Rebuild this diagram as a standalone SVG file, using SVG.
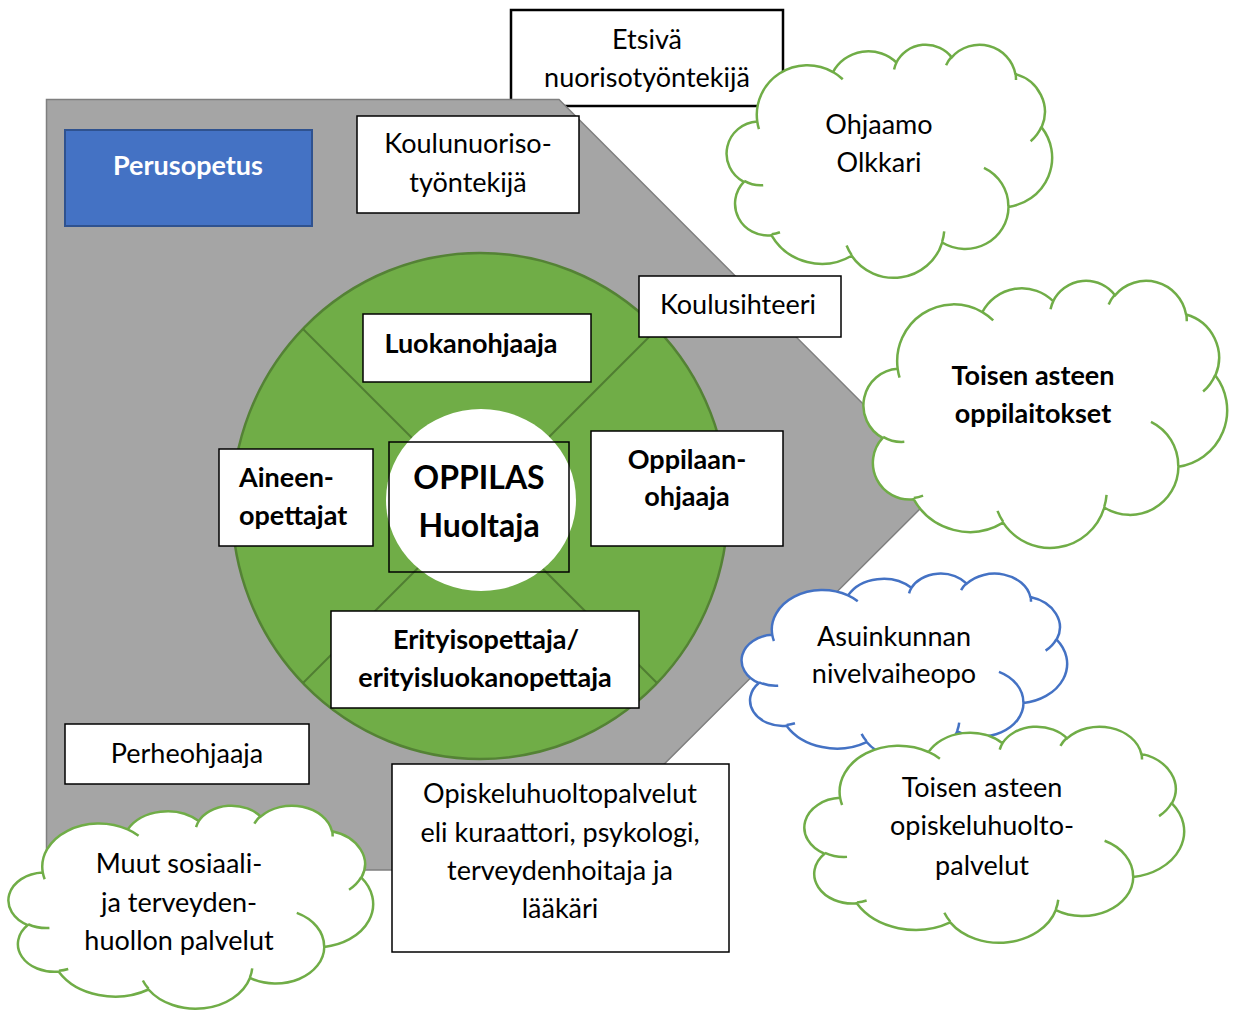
<svg xmlns="http://www.w3.org/2000/svg" xmlns:xlink="http://www.w3.org/1999/xlink" width="1235" height="1010" viewBox="0 0 1235 1010">
<style>
.box{fill:#fff;stroke:#000;stroke-width:1.5}
.t{font-family:Lato,"Liberation Sans",sans-serif;font-size:27px;fill:#000;text-anchor:middle}
.b{font-weight:bold}
.cg{fill:#fff;stroke:#70AD47;stroke-width:2.5}
.cb{fill:#fff;stroke:#4472C4;stroke-width:2.5}
</style>
<defs>
<path id="cloud" vector-effect="non-scaling-stroke" d="M9.03,33.26 A15.63,21.27 0 0 1 32.42,12.04 A12.34,16.82 0 0 1 51.98,7.94 A10.10,13.76 0 0 1 69.06,5.74 A11.24,15.27 0 0 1 88.70,12.91 A12.34,16.84 0 0 1 96.80,35.78 A15.68,21.34 0 0 1 86.58,69.91 A13.39,18.21 0 0 1 66.10,85.21 A15.63,21.33 0 0 1 38.15,90.89 A17.87,24.41 0 0 1 13.43,82.10 A10.09,13.70 0 0 1 4.89,59.14 A10.06,13.76 0 0 1 9.03,33.26 Z M10.86,60.59 A10.06,13.76 0 0 1 5.00,58.75 M16.04,80.78 A10.09,13.70 0 0 1 13.47,81.67 M38.14,90.49 A15.63,21.33 0 0 1 36.60,86.46 M66.73,80.44 A15.63,21.33 0 0 1 66.11,84.86 M79.00,53.13 A13.39,18.21 0 0 1 86.53,69.65 M96.75,35.54 A12.34,16.84 0 0 1 93.40,41.74 M88.71,12.56 A11.24,15.27 0 0 1 88.89,15.49 M67.31,9.15 A11.24,15.27 0 0 1 69.03,5.42 M51.25,10.93 A10.10,13.76 0 0 1 52.08,7.71 M32.41,12.02 A15.63,21.27 0 0 1 35.42,15.14 M9.55,36.55 A15.63,21.27 0 0 1 9.03,33.26"/>
</defs>
<rect width="1235" height="1010" fill="#fff"/>

<g id="etsiva">
<rect x="511" y="10" width="272" height="96" fill="#fff" stroke="#000" stroke-width="2.5"/>
<text class="t" x="647" y="49">Etsivä</text>
<text class="t" x="647" y="87">nuorisotyöntekijä</text>
</g>

<g id="perusopetus-area">
<polygon points="46.5,99.5 559,99.5 944,485 558,870 46.5,870" fill="#A5A5A5" stroke="#7F7F7F" stroke-width="1.5"/>
</g>

<g id="perusopetus">
<rect x="65" y="130" width="247" height="96" fill="#4472C4" stroke="#2F528F" stroke-width="2"/>
<text class="t b" x="188" y="175" style="fill:#fff">Perusopetus</text>
</g>

<g id="koulunuoriso">
<rect class="box" x="357" y="116" width="222" height="97"/>
<text class="t" x="468" y="153">Koulunuoriso-</text>
<text class="t" x="468" y="192">työntekijä</text>
</g>

<g id="ring">
<ellipse cx="480" cy="506" rx="248" ry="253" fill="#70AD47" stroke="#548235" stroke-width="2.5"/>
</g>
<g id="dividers" stroke="#507E32" stroke-width="2">
<line x1="303" y1="329" x2="480" y2="506"/>
<line x1="657" y1="329" x2="480" y2="506"/>
<line x1="303" y1="683" x2="480" y2="506"/>
<line x1="657" y1="683" x2="480" y2="506"/>
</g>

<g id="oppilas">
<ellipse cx="481" cy="500" rx="95" ry="91" fill="#fff"/>
<rect x="389" y="442" width="180" height="130" fill="none" stroke="#000" stroke-width="1.5"/>
<text class="t b" x="479" y="489" style="font-size:32px">OPPILAS</text>
<text class="t b" x="479" y="537" style="font-size:32px">Huoltaja</text>
</g>

<g id="luokanohjaaja">
<rect class="box" x="363" y="314" width="228" height="68"/>
<text class="t b" x="471" y="353">Luokanohjaaja</text>
</g>

<g id="koulusihteeri">
<rect class="box" x="639" y="276" width="202" height="61"/>
<text class="t" x="738" y="314">Koulusihteeri</text>
</g>

<g id="oppilaanohjaaja">
<rect class="box" x="591" y="431" width="192" height="115"/>
<text class="t b" x="687" y="469">Oppilaan-</text>
<text class="t b" x="687" y="506">ohjaaja</text>
</g>

<g id="aineenopettajat">
<rect class="box" x="219" y="449" width="154" height="97"/>
<text class="t b" x="239" y="487" style="text-anchor:start">Aineen-</text>
<text class="t b" x="239" y="525" style="text-anchor:start">opettajat</text>
</g>

<g id="erityisopettaja">
<rect class="box" x="331" y="611" width="308" height="97"/>
<text class="t b" x="486" y="649">Erityisopettaja/</text>
<text class="t b" x="485" y="687">erityisluokanopettaja</text>
</g>

<g id="perheohjaaja">
<rect class="box" x="65" y="724" width="244" height="60"/>
<text class="t" x="187" y="763">Perheohjaaja</text>
</g>

<g id="opiskeluhuolto">
<rect class="box" x="392" y="764" width="337" height="188"/>
<text class="t" x="560" y="803">Opiskeluhuoltopalvelut</text>
<text class="t" x="560" y="842">eli kuraattori, psykologi,</text>
<text class="t" x="560" y="880">terveydenhoitaja ja</text>
<text class="t" x="560" y="918">lääkäri</text>
</g>

<g id="ohjaamo">
<use xlink:href="#cloud" class="cg" transform="translate(728,44) scale(3.24,2.33)"/>
<text class="t" x="879" y="134">Ohjaamo</text>
<text class="t" x="879" y="172">Olkkari</text>
</g>

<g id="toisen-asteen-oppilaitokset">
<use xlink:href="#cloud" class="cg" transform="translate(865,280) scale(3.62,2.67)"/>
<text class="t b" x="1033" y="385">Toisen asteen</text>
<text class="t b" x="1033" y="423">oppilaitokset</text>
</g>

<g id="asuinkunnan-nivelvaiheopo">
<use xlink:href="#cloud" class="cb" transform="translate(743,573) scale(3.24,1.86)"/>
<text class="t" x="894" y="646">Asuinkunnan</text>
<text class="t" x="894" y="683">nivelvaiheopo</text>
</g>

<g id="toisen-asteen-opiskeluhuolto">
<use xlink:href="#cloud" class="cg" transform="translate(806,726) scale(3.78,2.16)"/>
<text class="t" x="982" y="797">Toisen asteen</text>
<text class="t" x="982" y="835">opiskeluhuolto-</text>
<text class="t" x="982" y="875">palvelut</text>
</g>

<g id="muut-palvelut">
<use xlink:href="#cloud" class="cg" transform="translate(10,805) scale(3.63,2.03)"/>
<text class="t" x="179" y="873">Muut sosiaali-</text>
<text class="t" x="179" y="912">ja terveyden-</text>
<text class="t" x="179" y="950">huollon palvelut</text>
</g>
</svg>
